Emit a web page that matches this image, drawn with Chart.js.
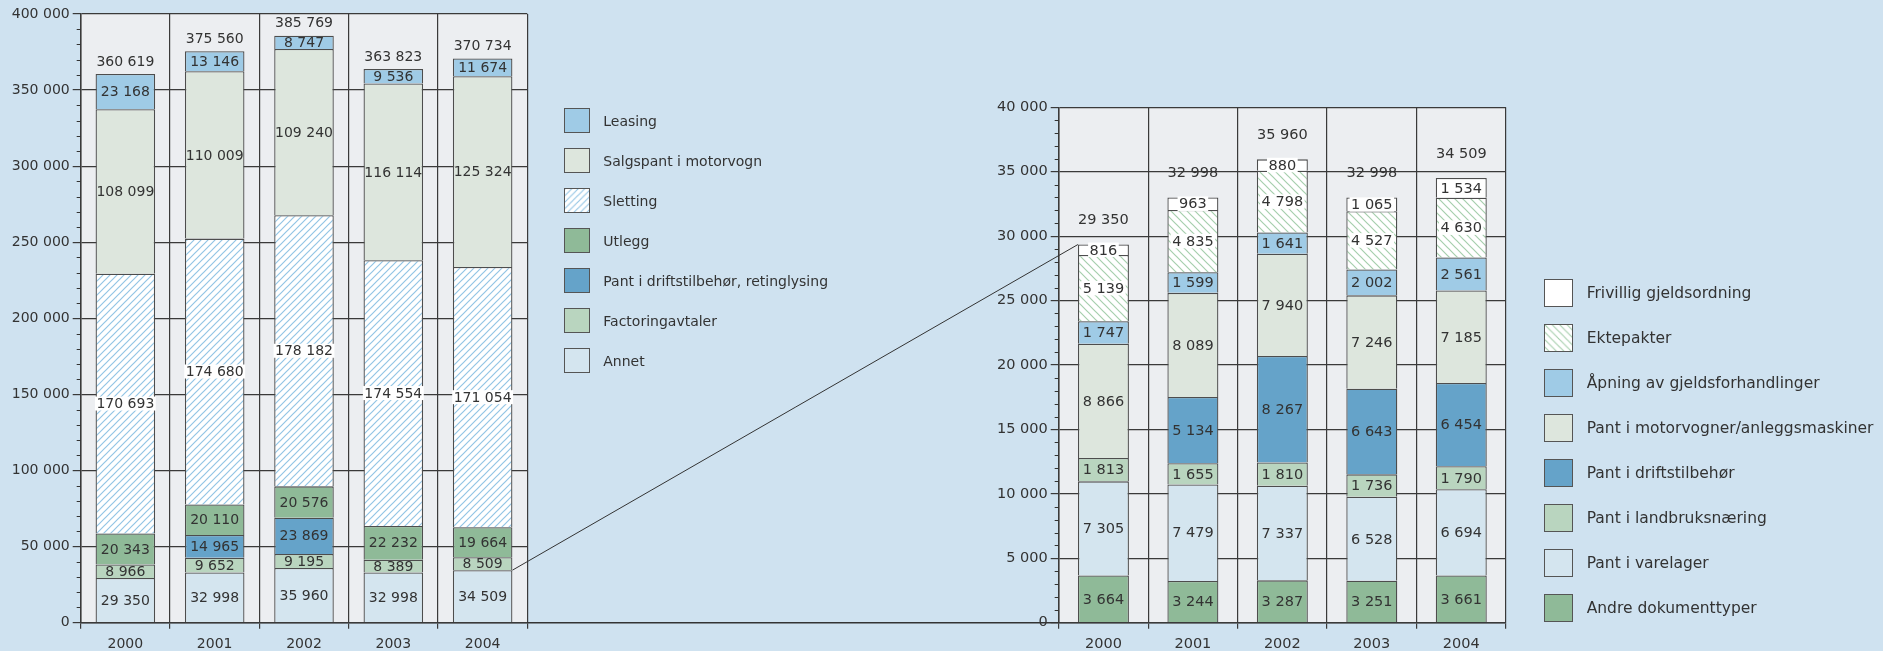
<!DOCTYPE html>
<html>
<head>
<meta charset="utf-8">
<script src="https://cdn.jsdelivr.net/npm/chart.js@4.4.1/dist/chart.umd.min.js"></script>
<style>
  html, body { margin:0; padding:0; background:#cfe2f0; }
  #wrap { position:relative; width:1883px; height:651px; overflow:hidden; background:#cfe2f0; }
  canvas.chart { position:absolute; left:0; top:0; }
  .leg { position:absolute; z-index:5; font-family:"DejaVu Sans", sans-serif; color:#333; }
  .item { position:absolute; left:0; display:flex; align-items:center; white-space:nowrap; }
  .item canvas { display:block; box-sizing:border-box; border:1.5px solid #555; }
</style>
</head>
<body>
<div id="wrap">
  <canvas id="c1" class="chart" width="1883" height="651"></canvas>
  <canvas id="c2" class="chart" width="1883" height="651"></canvas>
  <div id="leg1" class="leg"></div>
  <div id="leg2" class="leg"></div>
</div>
<script>
// ---------- DATA ----------
const years = ['2000', '2001', '2002', '2003', '2004'];

// Left chart (bottom to top of stack)
const leftNames = ['Annet', 'Factoringavtaler', 'Pant i driftstilbehør, retinglysing', 'Utlegg', 'Sletting', 'Salgspant i motorvogn', 'Leasing'];
const annet      = [29350, 32998, 35960, 32998, 34509];
const factoring  = [8966, 9652, 9195, 8389, 8509];
const driftRet   = [0, 14965, 23869, 0, 0];
const utlegg     = [20343, 20110, 20576, 22232, 19664];
const sletting   = [170693, 174680, 178182, 174554, 171054];
const salgspant  = [108099, 110009, 109240, 116114, 125324];
const leasing    = [23168, 13146, 8747, 9536, 11674];
const leftYTicks = [0, 50000, 100000, 150000, 200000, 250000, 300000, 350000, 400000];

// Right chart (bottom to top of stack)
const rightNames = ['Andre dokumenttyper', 'Pant i varelager', 'Pant i landbruksnæring', 'Pant i driftstilbehør', 'Pant i motorvogner/anleggsmaskiner', 'Åpning av gjeldsforhandlinger', 'Ektepakter', 'Frivillig gjeldsordning'];
const andre       = [3664, 3244, 3287, 3251, 3661];
const varelager   = [7305, 7479, 7337, 6528, 6694];
const landbruk    = [1813, 1655, 1810, 1736, 1790];
const drift       = [0, 5134, 8267, 6643, 6454];
const motorvogner = [8866, 8089, 7940, 7246, 7185];
const apning      = [1747, 1599, 1641, 2002, 2561];
const ektepakter  = [5139, 4835, 4798, 4527, 4630];
const frivillig   = [816, 963, 880, 1065, 1534];
const rightYTicks = [0, 5000, 10000, 15000, 20000, 25000, 30000, 35000, 40000];

// ---------- STYLE ----------
const FONT = '"DejaVu Sans", sans-serif';
const TXT = '#333333';
const C = {
  lightBlue: '#9fcbe6', paleGreen: '#dde6dd', green: '#8fba98', blue: '#65a3c9',
  lightGreen: '#b9d5bf', paleBlue: '#d4e5ef', white: '#ffffff'
};
function hatch(color, dir, s) {
  const c = document.createElement('canvas'); c.width = s; c.height = s;
  const x = c.getContext('2d');
  x.fillStyle = '#fff'; x.fillRect(0, 0, s, s);
  x.strokeStyle = color; x.lineWidth = 1.2;
  x.beginPath();
  if (dir === '/') {
    x.moveTo(-1, s + 1); x.lineTo(s + 1, -1);
    x.moveTo(-1, 1); x.lineTo(1, -1);
    x.moveTo(s - 1, s + 1); x.lineTo(s + 1, s - 1);
  } else {
    x.moveTo(-1, -1); x.lineTo(s + 1, s + 1);
    x.moveTo(s - 1, -1); x.lineTo(s + 1, 1);
    x.moveTo(-1, s - 1); x.lineTo(1, s + 1);
  }
  x.stroke();
  return document.createElement('canvas').getContext('2d').createPattern(c, 'repeat');
}
const hatchBlue = hatch('#93c5e5', '/', 7);
const hatchGreen = hatch('#a6cfad', '\\', 8);

const fmt = v => String(v).replace(/\B(?=(\d{3})+(?!\d))/g, ' ');

Chart.defaults.font.family = FONT;
Chart.defaults.color = TXT;

function ds(label, data, color, labelBg) {
  return { label, data, backgroundColor: color, borderColor: '#4d4d4d', borderWidth: 1.3, labelBg: !!labelBg };
}

const bgPlugin = {
  id: 'plotBg',
  beforeDraw(chart) {
    const a = chart.chartArea, ctx = chart.ctx;
    ctx.save(); ctx.fillStyle = '#eceef1';
    ctx.fillRect(a.left, a.top, a.right - a.left, a.bottom - a.top);
    ctx.restore();
  }
};
const minorPlugin = {
  id: 'minorTicks',
  afterDraw(chart, args, opts) {
    const y = chart.scales.y, ctx = chart.ctx;
    ctx.save(); ctx.strokeStyle = '#333'; ctx.lineWidth = 1;
    for (let v = y.min; v <= y.max; v += opts.step) {
      if (v % opts.major === 0) continue;
      const p = Math.round(y.getPixelForValue(v)) + 0.5;
      ctx.beginPath(); ctx.moveTo(y.right - 4, p); ctx.lineTo(y.right, p); ctx.stroke();
    }
    ctx.restore();
  }
};
const labelPlugin = {
  id: 'vals',
  afterDatasetsDraw(chart, args, opts) {
    const ctx = chart.ctx;
    ctx.save();
    ctx.font = opts.size + 'px ' + FONT;
    ctx.textAlign = 'center'; ctx.textBaseline = 'middle';
    const n = chart.data.labels.length;
    const totals = new Array(n).fill(0);
    chart.data.datasets.forEach((d, di) => {
      const meta = chart.getDatasetMeta(di);
      meta.data.forEach((el, i) => {
        const v = d.data[i];
        totals[i] += v;
        if (!v) return;
        const cy = (el.y + el.base) / 2;
        const t = fmt(v);
        if (d.labelBg) {
          const w = ctx.measureText(t).width;
          ctx.fillStyle = '#fff';
          ctx.fillRect(el.x - w / 2 - 1.5, cy - opts.size * 0.5, w + 3, opts.size);
        }
        ctx.fillStyle = TXT;
        ctx.fillText(t, el.x, cy + 1);
      });
    });
    const top = chart.getDatasetMeta(chart.data.datasets.length - 1);
    top.data.forEach((el, i) => {
      ctx.fillStyle = TXT;
      ctx.fillText(fmt(totals[i]), el.x, el.y - opts.totalOffset);
    });
    ctx.restore();
  }
};

function makeOptions(cfg) {
  return {
    responsive: false, animation: false,
    layout: { padding: cfg.padding },
    plugins: {
      legend: { display: false }, tooltip: { enabled: false },
      minorTicks: { step: cfg.minor, major: cfg.major },
      vals: { size: cfg.labelSize, totalOffset: cfg.totalOffset }
    },
    datasets: { bar: { categoryPercentage: cfg.catPct, barPercentage: 1 } },
    scales: {
      x: {
        stacked: true,
        afterFit: s => { s.height = cfg.xHeight; },
        grid: { display: true, offset: true, color: '#3a3a3a', lineWidth: 1.2, drawTicks: true, tickLength: 6, tickColor: '#3a3a3a' },
        border: { display: true, color: '#3a3a3a', width: 1.5 },
        ticks: { font: { size: cfg.xFont }, color: TXT, padding: 7, maxRotation: 0 }
      },
      y: {
        stacked: true, min: 0, max: cfg.ticks[cfg.ticks.length - 1],
        afterBuildTicks: s => { s.ticks = cfg.ticks.map(v => ({ value: v })); },
        afterFit: s => { s.width = cfg.yWidth; },
        grid: { color: '#3a3a3a', lineWidth: 1.2, drawTicks: true, tickLength: 8, tickColor: '#3a3a3a' },
        border: { display: true, color: '#3a3a3a', width: 1.5 },
        ticks: { font: { size: cfg.yFont }, color: TXT, padding: 3, callback: v => fmt(v) }
      }
    }
  };
}

const chart1 = new Chart(document.getElementById('c1'), {
  type: 'bar',
  data: {
    labels: years,
    datasets: [
      ds(leftNames[0], annet, C.paleBlue),
      ds(leftNames[1], factoring, C.lightGreen),
      ds(leftNames[2], driftRet, C.blue),
      ds(leftNames[3], utlegg, C.green),
      ds(leftNames[4], sletting, hatchBlue, true),
      ds(leftNames[5], salgspant, C.paleGreen),
      ds(leftNames[6], leasing, C.lightBlue)
    ]
  },
  options: makeOptions({
    padding: { left: 0, top: 14, right: 1883 - 527.3, bottom: 0 },
    yWidth: 80.7, xHeight: 28.3, ticks: leftYTicks, minor: 10000, major: 50000,
    catPct: 0.667, labelSize: 14, totalOffset: 12, xFont: 14, yFont: 14
  }),
  plugins: [bgPlugin, minorPlugin, labelPlugin]
});

const connectorPlugin = {
  id: 'connector',
  afterDraw(chart) {
    const ctx = chart.ctx;
    const m1 = chart1.getDatasetMeta(0).data[4];
    const m2 = chart.getDatasetMeta(chart.data.datasets.length - 1).data[0];
    ctx.save(); ctx.strokeStyle = '#333'; ctx.lineWidth = 1;
    ctx.beginPath();
    ctx.moveTo(m1.x + m1.width / 2, m1.y);
    ctx.lineTo(m2.x - m2.width / 2, m2.y);
    ctx.stroke();
    const yb = chart1.scales.y.getPixelForValue(0);
    ctx.lineWidth = 1.5;
    ctx.beginPath();
    ctx.moveTo(chart1.chartArea.right, yb);
    ctx.lineTo(chart.chartArea.left, yb);
    ctx.stroke();
    ctx.restore();
  }
};

const chart2 = new Chart(document.getElementById('c2'), {
  type: 'bar',
  data: {
    labels: years,
    datasets: [
      ds(rightNames[0], andre, C.green),
      ds(rightNames[1], varelager, C.paleBlue),
      ds(rightNames[2], landbruk, C.lightGreen),
      ds(rightNames[3], drift, C.blue),
      ds(rightNames[4], motorvogner, C.paleGreen),
      ds(rightNames[5], apning, C.lightBlue),
      ds(rightNames[6], ektepakter, hatchGreen, true),
      ds(rightNames[7], frivillig, C.white, true)
    ]
  },
  options: makeOptions({
    padding: { left: 978.7, top: 107.3, right: 1883 - 1506, bottom: 0 },
    yWidth: 80, xHeight: 28.3, ticks: rightYTicks, minor: 1000, major: 5000,
    catPct: 0.57, labelSize: 14.5, totalOffset: 24, xFont: 14.5, yFont: 14.5
  }),
  plugins: [bgPlugin, minorPlugin, labelPlugin, connectorPlugin]
});

// ---------- HTML legends built from the chart datasets ----------
function buildLegend(chart, el, cfg) {
  el.style.left = cfg.left + 'px'; el.style.top = cfg.top + 'px';
  const items = chart.data.datasets.slice().reverse();
  items.forEach((d, i) => {
    const row = document.createElement('div');
    row.className = 'item';
    row.style.top = (i * cfg.step) + 'px';
    row.style.height = cfg.boxH + 'px';
    row.style.fontSize = cfg.font + 'px';
    const box = document.createElement('canvas');
    box.width = cfg.boxW; box.height = cfg.boxH;
    box.style.width = cfg.boxW + 'px'; box.style.height = cfg.boxH + 'px';
    const bx = box.getContext('2d');
    bx.fillStyle = d.backgroundColor; bx.fillRect(0, 0, cfg.boxW, cfg.boxH);
    const span = document.createElement('span');
    span.textContent = d.label;
    span.style.marginLeft = cfg.gap + 'px';
    row.appendChild(box); row.appendChild(span);
    el.appendChild(row);
  });
}
buildLegend(chart1, document.getElementById('leg1'), { left: 564.3, top: 108.3, step: 40, boxW: 26, boxH: 25, gap: 13, font: 14 });
buildLegend(chart2, document.getElementById('leg2'), { left: 1544.3, top: 279.3, step: 44.9, boxW: 29, boxH: 28, gap: 13.4, font: 15.5 });
</script>
</body>
</html>
